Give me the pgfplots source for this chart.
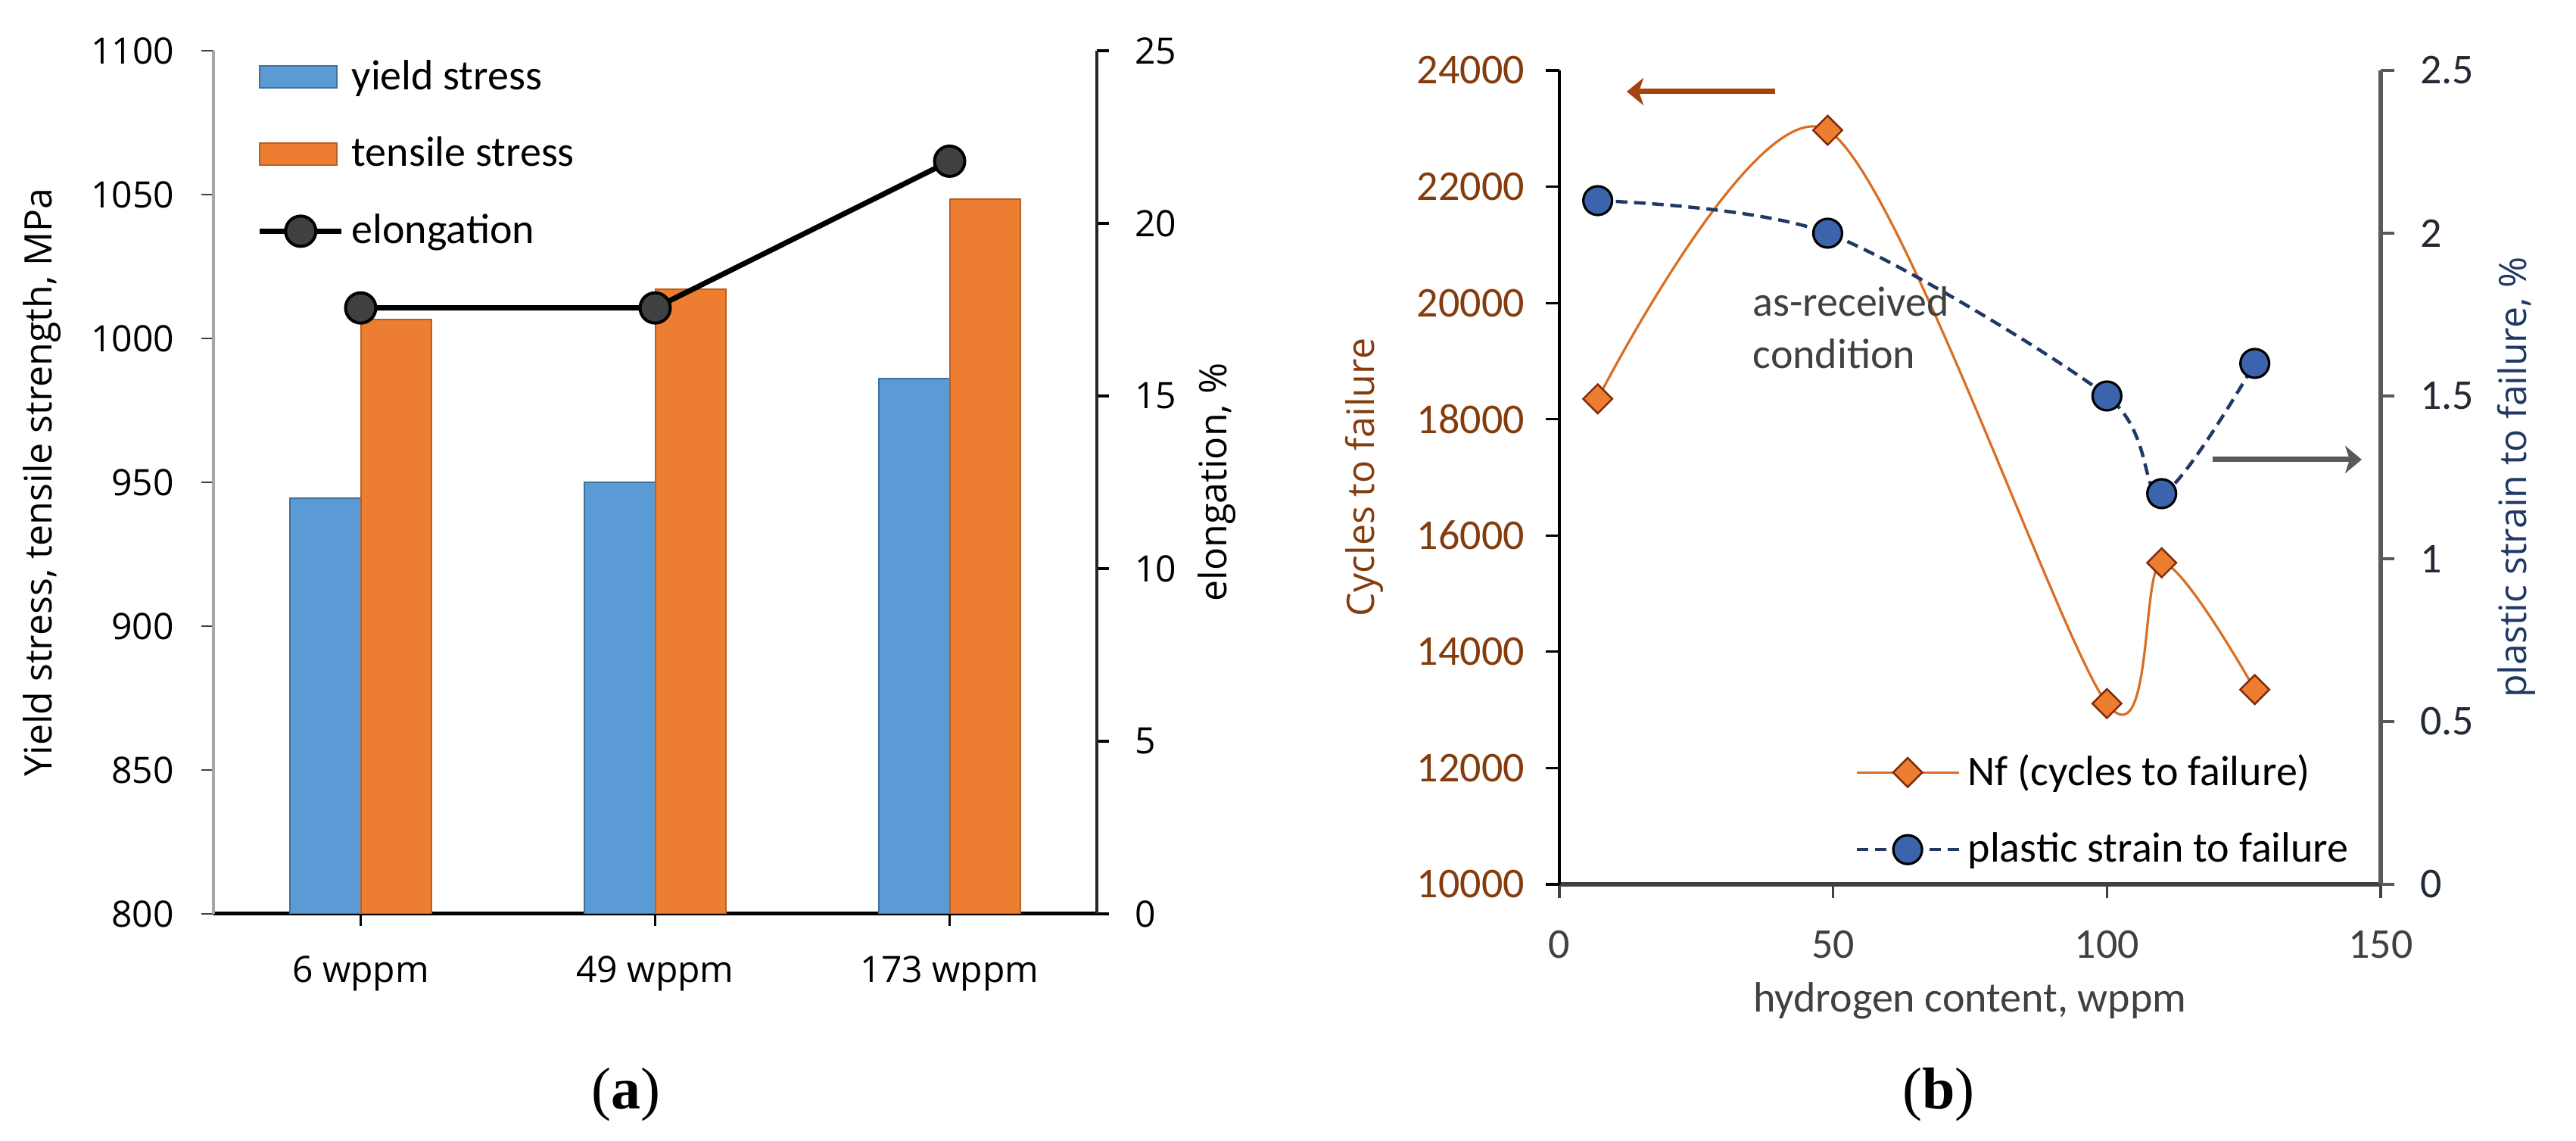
\documentclass[border=0pt]{standalone}
\usepackage{pgfplots}
\pgfplotsset{compat=1.18}
\usepackage{fontspec}
\setmainfont{Carlito}
\newfontfamily\seg{Open Sans}
\newfontfamily\tms{Liberation Serif}
\usetikzlibrary{arrows.meta}

\definecolor{cblue}{HTML}{5B9BD5}
\definecolor{cblueD}{HTML}{41719C}
\definecolor{corange}{HTML}{ED7D31}
\definecolor{corangeD}{HTML}{B85F22}
\definecolor{mgray}{HTML}{404040}
\definecolor{axgray}{HTML}{A6A6A6}
\definecolor{brownT}{HTML}{843C0C}
\definecolor{arrowbrown}{HTML}{A5420F}
\definecolor{navyT}{HTML}{1F3864}
\definecolor{navyTick}{HTML}{222A35}
\definecolor{mblue}{HTML}{3B64AD}
\definecolor{nfline}{HTML}{D96E24}
\definecolor{dkbrown}{HTML}{7F2A0A}
\definecolor{rgray}{HTML}{595959}

\pgfplotsset{
  barleg/.style={legend image code/.code={\draw[##1] (0pt,-3.6pt) rectangle (25.5pt,3.6pt);}},
  lineleg/.style={legend image code/.code={\draw[##1, mark repeat=2, mark phase=2] plot coordinates {(0pt,0pt) (13.5pt,0pt) (27pt,0pt)};}},
  lineleglong/.style={legend image code/.code={\draw[##1, mark repeat=2, mark phase=2] plot coordinates {(0pt,0pt) (16.9pt,0pt) (33.75pt,0pt)};}},
}

\begin{document}
\begin{tikzpicture}
\useasboundingbox (0,0) rectangle (850.75pt,376.75pt);

% ---------------- (a) left chart: bars ----------------
\begin{axis}[
  at={(70.5pt,75pt)}, anchor=south west, scale only axis,
  width=291.75pt, height=285pt,
  xmin=-0.5, xmax=2.5, ymin=800, ymax=1100,
  xtick={0,1,2}, xticklabels={6 wppm,49 wppm,173 wppm},
  ytick={800,850,...,1100},
  axis x line*=bottom, axis y line*=left,
  x axis line style={-, draw=black, line width=1.25pt},
  y axis line style={-, draw=axgray, line width=1pt},
  tick align=outside, major tick length=4pt,
  xtick style={draw=black, line width=0.8pt},
  ytick style={draw=mgray, line width=0.6pt},
  /pgf/number format/assume math mode=true,
  /pgf/number format/1000 sep={},
  yticklabel style={font=\seg\fontsize{12}{14}\selectfont, text=black, xshift=-5.5pt},
  xticklabel style={font=\seg\fontsize{12}{14}\selectfont, text=black, yshift=-6.5pt},
  ylabel={Yield stress, tensile strength, MPa},
  every axis y label/.style={at={(axis description cs:-0.1937,0.5)}, rotate=90, anchor=center,
    font=\seg\fontsize{12.5}{15}\selectfont, text=black},
  ybar=0pt, bar width=23.3pt,
]
\addplot[fill=cblue, draw=cblueD, line width=0.5pt] coordinates {(0,944.5) (1,950) (2,986)};
\addplot[fill=corange, draw=corangeD, line width=0.5pt] coordinates {(0,1006.5) (1,1017) (2,1048.5)};
\end{axis}

% ---------------- (a) left chart: elongation ----------------
\begin{axis}[
  at={(70.5pt,75pt)}, anchor=south west, scale only axis,
  width=291.75pt, height=285pt,
  xmin=-0.5, xmax=2.5, ymin=0, ymax=25,
  ytick={0,5,...,25},
  axis x line=none, axis y line*=right,
  y axis line style={-, draw=black!85, line width=1pt},
  tick align=outside, major tick length=4pt,
  ytick style={draw=black, line width=0.8pt},
  /pgf/number format/assume math mode=true,
  yticklabel style={font=\seg\fontsize{12}{14}\selectfont, text=black, xshift=5pt},
  ylabel={elongation, \%},
  every axis y label/.style={at={(axis description cs:1.1354,0.5)}, rotate=90, anchor=center,
    font=\seg\fontsize{12.5}{15}\selectfont, text=black},
  legend style={draw=none, fill=none, at={(0.0488,0.99)}, anchor=north west,
    font=\fontsize{14}{16}\selectfont, row sep=14.25pt, inner xsep=0pt, inner ysep=0pt,
    nodes={inner xsep=2.5pt, inner ysep=0pt}},
  legend cell align=left,
]
\addlegendimage{fill=cblue, draw=cblueD, line width=0.5pt, barleg}
\addlegendentry{yield stress}
\addlegendimage{fill=corange, draw=corangeD, line width=0.5pt, barleg}
\addlegendentry{tensile stress}
\addplot[black, line width=1.75pt, mark=*, mark size=5pt,
  mark options={fill=mgray, draw=black, line width=1pt}, lineleg]
  coordinates {(0,17.55) (1,17.55) (2,21.8)};
\addlegendentry{elongation}
\end{axis}

% ---------------- (b) right chart: Nf ----------------
\begin{axis}[
  at={(515pt,84.75pt)}, anchor=south west, scale only axis,
  width=271.25pt, height=268.75pt,
  xmin=0, xmax=150, ymin=10000, ymax=24000,
  xtick={0,50,100,150}, ytick={10000,12000,...,24000},
  scaled y ticks=false,
  axis x line*=bottom, axis y line*=left,
  x axis line style={-, draw=mgray, line width=1.5pt},
  y axis line style={-, draw=black, line width=1pt},
  tick align=outside, major tick length=4.5pt,
  xtick style={draw=mgray, line width=0.8pt},
  ytick style={draw=black, line width=0.8pt},
  /pgf/number format/assume math mode=true,
  /pgf/number format/1000 sep={},
  yticklabel style={font=\fontsize{14}{16}\selectfont, text=brownT, xshift=-3.5pt},
  xticklabel style={font=\fontsize{14}{16}\selectfont, text=mgray, yshift=-7.25pt},
  xlabel={hydrogen content, wppm},
  every axis x label/.style={at={(axis description cs:0.5,-0.1433)}, anchor=center,
    font=\fontsize{14}{16}\selectfont, text=mgray},
  ylabel={Cycles to failure},
  every axis y label/.style={at={(axis description cs:-0.2378,0.5)}, rotate=90, anchor=center,
    font=\seg\fontsize{12.5}{15}\selectfont, text=brownT},
]
\addplot[smooth, nfline, line width=0.8pt, mark=square*, mark size=3.4pt,
  mark options={rotate=45, fill=corange, draw=dkbrown, line width=0.6pt, solid}]
  coordinates {(7,18350) (49,22970) (100,13110) (110,15530) (127,13350)};
\end{axis}

% ---------------- (b) right chart: plastic strain ----------------
\begin{axis}[
  at={(515pt,84.75pt)}, anchor=south west, scale only axis,
  width=271.25pt, height=268.75pt,
  xmin=0, xmax=150, ymin=0, ymax=2.5,
  ytick={0,0.5,...,2.5},
  axis x line=none, axis y line*=right,
  y axis line style={-, draw=rgray, line width=1.5pt},
  tick align=outside, major tick length=4.5pt,
  ytick style={draw=rgray, line width=0.8pt},
  /pgf/number format/assume math mode=true,
  yticklabel style={font=\fontsize{14}{16}\selectfont, text=navyTick, xshift=5pt},
  ylabel={plastic strain to failure, \%},
  every axis y label/.style={at={(axis description cs:1.165,0.5)}, rotate=90, anchor=center,
    font=\seg\fontsize{12.5}{15}\selectfont, text=navyT},
  legend style={draw=none, fill=none, at={(0.359,0.16)}, anchor=north west,
    font=\fontsize{14}{16}\selectfont, row sep=14pt, inner xsep=0pt, inner ysep=0pt,
    nodes={inner xsep=2.5pt, inner ysep=0pt}},
  legend cell align=left,
]
\addlegendimage{nfline, line width=0.8pt, mark=square*, mark size=3.4pt,
  mark options={rotate=45, fill=corange, draw=dkbrown, line width=0.6pt, solid}, lineleglong}
\addlegendentry{Nf (cycles to failure)}
\addplot[smooth, navyT, line width=1.1pt, dash pattern=on 3.8pt off 2.2pt,
  mark=*, mark size=4.75pt, mark options={solid, fill=mblue, draw=black, line width=0.8pt}, lineleglong]
  coordinates {(7,2.1) (49,2.0) (100,1.5) (110,1.2) (127,1.6)};
\addlegendentry{plastic strain to failure}
\end{axis}

% annotations
\node[anchor=west, align=left, font=\fontsize{14}{17.25}\selectfont, text=mgray, inner sep=0pt]
  at (578.75pt,268.6pt) {as-received\\condition};
\draw[arrowbrown, line width=1.75pt, -{Stealth[length=5.5pt, width=9pt, inset=1.5pt]}]
  (586.25pt,346.5pt) -- (537.25pt,346.5pt);
\draw[rgray, line width=1.75pt, -{Stealth[length=5.5pt, width=9pt, inset=1.5pt]}]
  (730.75pt,225pt) -- (780pt,225pt);

\node[font=\tms\fontsize{19.5}{22}\selectfont] at (206.75pt,15.25pt) {(\textbf{a})};
\node[font=\tms\fontsize{19.5}{22}\selectfont] at (640.3pt,15.25pt) {(\textbf{b})};
\end{tikzpicture}
\end{document}
